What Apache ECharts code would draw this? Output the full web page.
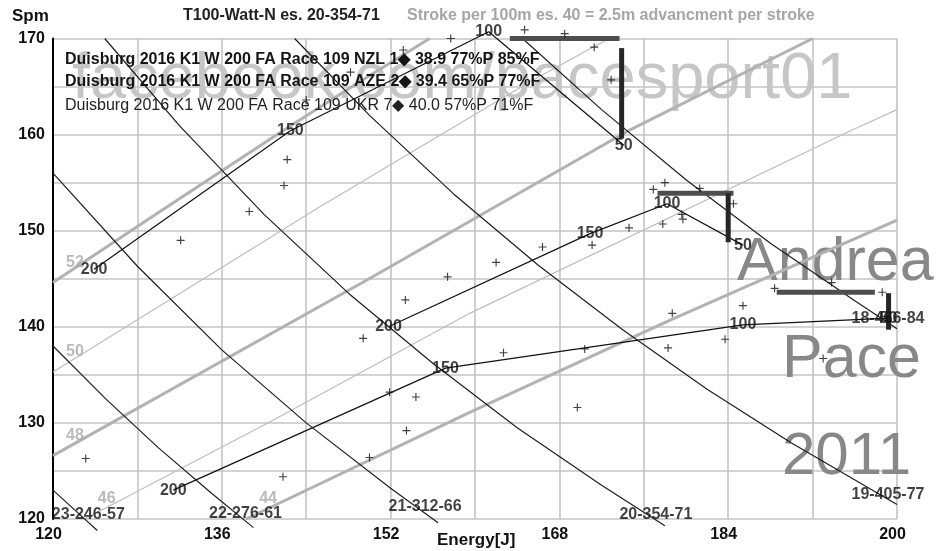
<!DOCTYPE html>
<html>
<head>
<meta charset="utf-8">
<title>T100-Watt-N — Duisburg 2016 K1 W 200 FA</title>
<script src="https://cdn.jsdelivr.net/npm/echarts@6/dist/echarts.min.js"></script>
<style>
  html, body { margin: 0; padding: 0; background: #ffffff; }
  #chart { width: 939px; height: 551px; }
</style>
</head>
<body>
<div id="chart"></div>
<script>
// ---- axis tick labels ----
const xTickLabels = [120, 136, 152, 168, 184, 200];
const yTickLabels = [120, 130, 140, 150, 160, 170];

// ---- 50 m split marks (distance to go) ----
const splitLabels = ['200', '150', '100', '50'];

// ---- per-split averages: energy per stroke [J] and stroke rate [spm] ----
const energyNZL = [123.9, 142.5, 161.3, 174.1];
const spmNZL    = [146.0, 160.4, 170.7, 158.9];
const energyAZE = [151.8, 170.9, 178.2, 185.4];
const spmAZE    = [140.0, 149.7, 152.8, 148.5];
const energyUKR = [131.4, 157.2, 185.4, 199.2];
const spmUKR    = [123.0, 135.7, 140.2, 140.9];

// ---- single measurements ([J, spm]) ----
const pointsNZL = [[132.1,149.0],[138.6,152.0],[141.9,154.7],[142.2,157.4],[144.0,163.6],[148.2,166.5],
                   [153.2,168.8],[157.7,170.0],[164.7,170.9],[168.5,170.5],[171.3,169.1],[172.9,165.7]];
const pointsAZE = [[149.4,138.8],[153.4,142.8],[157.4,145.2],[162.0,146.7],[166.4,148.3],[171.1,148.5],
                   [174.6,150.3],[177.8,150.7],[179.6,151.7],[179.7,151.2],[176.9,154.3],[178.0,155.0],
                   [181.3,154.4],[184.5,152.8]];
const pointsUKR = [[123.1,126.3],[141.8,124.4],[150.0,126.4],[153.5,129.2],[151.9,133.2],[154.4,132.7],
                   [162.7,137.3],[169.7,131.6],[170.4,137.7],[178.3,137.8],[178.7,141.4],[183.7,138.7],
                   [185.4,142.2],[188.4,144.0],[193.0,136.7],[193.8,144.6],[198.6,143.6]];

// ---- final-phase bars: horizontal [E from, E to, spm], vertical [E, spm from, spm to] ----
const barsH = [[163.3, 173.7, 170.0], [177.3, 184.5, 153.9], [188.6, 197.9, 143.6]];
const barsV = [[173.9, 169.0, 159.6], [184.0, 153.9, 148.8], [199.2, 143.5, 139.7]];

// ---- iso-power guides (T100 - Watt - N) ----
const isoNames = ['23-246-57', '22-276-61', '21-312-66', '20-354-71', '19-405-77', '18-466-84'];
const iso246 = [[120,123.0],[122,121.0],[124.2,118.8]];
const iso276 = [[120,138.0],[125,132.5],[130,127.4],[135,122.7],[139,119.1]];
const iso312 = [[120,156.0],[128,146.3],[136,137.6],[144,130.0],[152,123.2],[156.5,119.6]];
const iso354 = [[124.9,170.0],[132,160.9],[140,151.7],[148,143.5],[156,136.2],[164,129.5],[172,123.5],[178,119.3]];
const iso405 = [[142.9,170.0],[150,162.0],[158,153.8],[166,146.4],[174,139.7],[182,133.5],[190,127.9],[200,121.5]];
const iso466 = [[164.5,170.0],[172,162.6],[180,155.3],[188,148.7],[196,142.7],[200,139.8]];

// ---- strokes per 100 m guides ----
const strokeNames = ['52', '50', '48', '46', '44'];
const stroke52 = [[120,144.6],[130,151.9],[141.5,160.2],[148.5,165.1],[155.7,170.0]];
const stroke50 = [[120,135.3],[145.3,152.5],[165.2,165.5],[172.7,170.0]];
const stroke48 = [[120,126.6],[149.8,144.9],[174.7,160.5],[192.0,170.0]];
const stroke46 = [[123.0,120.0],[140.9,130.3],[159.5,141.4],[195.8,160.5],[200,162.6]];
const stroke44 = [[138.3,120.0],[159.5,131.1],[178.5,140.7],[200,151.1]];

// ---------------------------------------------------------------
const FONT = "'Liberation Sans', Arial, sans-serif";
const PLUS = 'path://M3,0H4V3H7V4H4V7H3V4H0V3H3Z';

const zip = (xs, ys) => xs.map((x, i) => [x, ys[i]]);

const series = [];

// strokes-per-100m curves, alternating thick / thin
const strokeCurves = [stroke52, stroke50, stroke48, stroke46, stroke44];
strokeCurves.forEach((d, i) => {
  const thick = i % 2 === 0;
  series.push({
    type: 'line', data: d, symbol: 'none', silent: true, clip: false, z: 3,
    lineStyle: { color: thick ? '#b2b2b2' : '#bdbdbd', width: thick ? 3 : 1.2 }
  });
});

// iso-power curves
const isoCurves = [iso246, iso276, iso312, iso354, iso405, iso466];
isoCurves.forEach(d => {
  series.push({
    type: 'line', data: d, symbol: 'none', silent: true, clip: false, z: 4,
    lineStyle: { color: '#1e1e1e', width: 1.2 }
  });
});

// athletes' split polylines
[[energyNZL, spmNZL], [energyAZE, spmAZE], [energyUKR, spmUKR]].forEach(([e, s]) => {
  series.push({
    type: 'line', data: zip(e, s), symbol: 'none', silent: true, clip: false, z: 5,
    lineStyle: { color: '#111', width: 1.2 }
  });
});

// final-phase bars
barsH.forEach(b => {
  series.push({
    type: 'line', data: [[b[0], b[2]], [b[1], b[2]]], symbol: 'none', silent: true, clip: false, z: 6,
    lineStyle: { color: '#4e4e4e', width: 5, cap: 'butt' }
  });
});
barsV.forEach(b => {
  series.push({
    type: 'line', data: [[b[0], b[1]], [b[0], b[2]]], symbol: 'none', silent: true, clip: false, z: 6,
    lineStyle: { color: '#262626', width: 5, cap: 'butt' }
  });
});

// single measurements
series.push({
  type: 'scatter', data: pointsNZL.concat(pointsAZE, pointsUKR), symbol: PLUS, symbolSize: 8,
  silent: true, clip: false, z: 7, itemStyle: { color: '#111' }
});

// text labels anchored on data points
const labelItems = [];
const labelStyle = { color: '#111', fontWeight: 'bold', fontSize: 16, fontFamily: FONT };
[[energyNZL, spmNZL], [energyAZE, spmAZE], [energyUKR, spmUKR]].forEach(([e, s]) => {
  e.forEach((x, i) => {
    labelItems.push({ value: [x, s[i]], label: Object.assign({ formatter: splitLabels[i] }, labelStyle) });
  });
});
const isoLabelShift = [[-9, -16], [-8, -14], [-13, -16], [-9, -11], [-9, -10], [-9, -10]];
isoCurves.forEach((d, i) => {
  labelItems.push({
    value: d[d.length - 1],
    label: Object.assign({ formatter: isoNames[i], offset: isoLabelShift[i] }, labelStyle)
  });
});
strokeCurves.forEach((d, i) => {
  labelItems.push({
    value: d[0],
    label: { formatter: strokeNames[i], offset: [22, -20], color: '#a9a9a9', fontWeight: 'bold', fontSize: 16, fontFamily: FONT }
  });
});
series.push({
  type: 'scatter', data: labelItems, symbolSize: 1, silent: true, clip: false, z: 8,
  itemStyle: { color: 'rgba(0,0,0,0)' },
  label: { show: true, position: 'inside' }
});

const chart = echarts.init(document.getElementById('chart'), null, { renderer: 'canvas' });

const txt = (x, y, text, size, color, weight, z, va) => ({
  type: 'text', x: x, y: y, z: z, silent: true,
  style: { text: text, fill: color, font: `${weight} ${size}px ${FONT}`, textAlign: 'left', textVerticalAlign: va || 'middle' }
});

chart.setOption({
  animation: false,
  backgroundColor: '#ffffff',
  grid: { left: 53, top: 38.5, right: 42, bottom: 32, containLabel: false },
  xAxis: {
    type: 'value', min: 120, max: 200, interval: 8,
    axisLine: { show: false }, axisTick: { show: false },
    splitLine: { show: true, lineStyle: { color: '#c4c4c4', width: 1.6 } },
    axisLabel: {
      margin: 8, padding: [0, 9, 0, 0], color: '#111', fontWeight: 'bold', fontSize: 16, fontFamily: FONT,
      formatter: v => (xTickLabels.includes(v) ? String(v) : '')
    }
  },
  yAxis: {
    type: 'value', min: 120, max: 170, interval: 5,
    axisLine: { show: true, lineStyle: { color: '#000', width: 2 } }, axisTick: { show: false },
    splitLine: { show: true, lineStyle: { color: '#c4c4c4', width: 1.6 } },
    axisLabel: {
      margin: 8, padding: [3, 0, 0, 0], color: '#111', fontWeight: 'bold', fontSize: 16, fontFamily: FONT,
      formatter: v => (yTickLabels.includes(v) ? String(v) : '')
    }
  },
  graphic: [
    // watermarks
    txt(72, 48, 'facebook.com/pacesport01', 65, '#c6c6c6', 'normal', 1, 'top'),
    txt(737, 233, 'Andrea', 61, '#888888', 'normal', 1, 'top'),
    txt(782, 330, 'Pace', 61, '#888888', 'normal', 1, 'top'),
    txt(782, 427, '2011', 60, '#888888', 'normal', 1, 'top'),
    // headings
    txt(12, 16, 'Spm', 17, '#111', 'bold', 20),
    txt(183, 16, 'T100-Watt-N es. 20-354-71', 16, '#222', 'bold', 20),
    txt(407, 16, 'Stroke per 100m es. 40 = 2.5m advancment per stroke', 16, '#a6a6a6', 'bold', 20),
    txt(437, 540, 'Energy[J]', 17, '#111', 'bold', 20),
    // race legend
    txt(65, 60, 'Duisburg 2016 K1 W 200 FA Race 109 NZL 1\u25C6 38.9 77%P 85%F', 16, '#151515', 'bold', 20),
    txt(65, 82, 'Duisburg 2016 K1 W 200 FA Race 109 AZE 2\u25C6 39.4 65%P 77%F', 16, '#151515', 'bold', 20),
    txt(65, 105.5, 'Duisburg 2016 K1 W 200 FA Race 109 UKR 7\u25C6 40.0 57%P 71%F', 16, '#222', 'normal', 20)
  ],
  series: series
});
</script>
</body>
</html>
